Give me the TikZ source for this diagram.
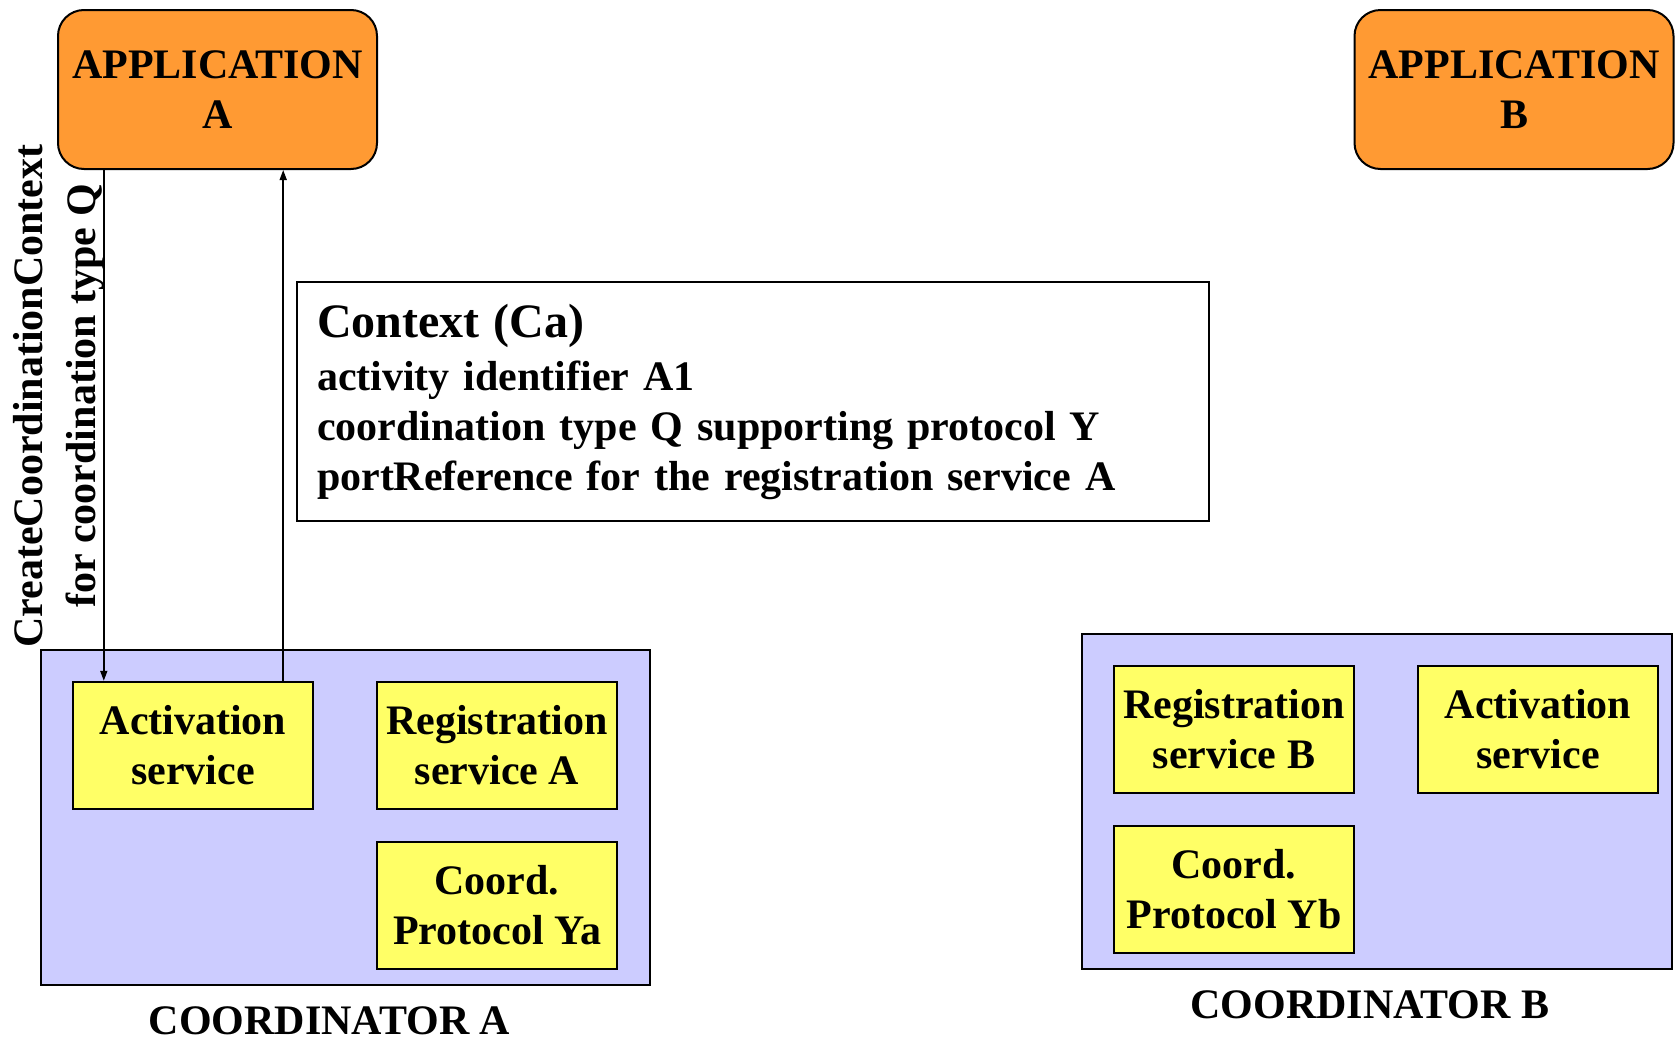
\documentclass[tikz,border=0pt]{standalone}
\usepackage{fontspec}
\setmainfont{Liberation Serif}
\usetikzlibrary{arrows.meta}

\definecolor{appcol}{HTML}{FF9A33}
\definecolor{coordcol}{HTML}{CCCCFF}
\definecolor{servcol}{HTML}{FFFF66}

\begin{document}
\begin{tikzpicture}[x=0.5pt, y=-0.5pt,
  every node/.style={font=\fontsize{21}{25}\selectfont\bfseries, align=center, inner sep=0pt},
  appbox/.style={draw, line width=1pt, fill=appcol, rounded corners=13pt, minimum width=159.5pt, minimum height=79.5pt},
  coordbox/.style={draw, line width=1pt, fill=coordcol, minimum height=167.5pt},
  servbox/.style={draw, line width=1.2pt, fill=servcol, minimum width=120pt, minimum height=63.5pt},
  ctxbox/.style={draw, line width=1pt, align=left, text width=436pt, inner xsep=10pt, minimum height=119.5pt},
  msg/.style={-{Triangle[length=5pt,width=3.5pt]}, line width=0.8pt}]
  \useasboundingbox (0,0) rectangle (1675,1039);

  % applications
  \node[appbox] (appA) at (217.5,89.5) {APPLICATION\\A};
  \node[appbox] (appB) at (1514,89.5) {APPLICATION\\B};

  % context
  \node[ctxbox] (ctx) at (753,401.5) {{\fontsize{24}{27}\selectfont Context (Ca)}\\[1.5pt]
    activity identifier A1\\
    coordination type Q supporting protocol Y\\
    portReference for the registration service A};

  % coordinator A
  \node[coordbox, minimum width=304.5pt] (coordA) at (345.5,817.5) {};
  \node[servbox] (actA) at (193,745.5) {Activation\\service};
  \node[servbox] (regA) at (497,745.5) {Registration\\service A};
  \node[servbox] (protA) at (497,905.5) {Coord.\\Protocol Ya};
  \node[anchor=base] (labA) at (329.6,1034) {COORDINATOR A};

  % coordinator B
  \node[coordbox, minimum width=295pt] (coordB) at (1377,801.5) {};
  \node[servbox] (regB) at (1234,729.5) {Registration\\service B};
  \node[servbox] (actB) at (1538,729.5) {Activation\\service};
  \node[servbox] (protB) at (1234,889.5) {Coord.\\Protocol Yb};
  \node[anchor=base] (labB) at (1370,1018) {COORDINATOR B};

  % request and reply
  \node[rotate=90, font=\fontsize{21}{26.5}\selectfont\bfseries] (create) at (58.5,396) {CreateCoordinationContext\\for coordination type Q};
  \coordinate (dn) at ([xshift=16pt]actA.north west);
  \coordinate (up) at ([xshift=-15.5pt]actA.north east);
  \draw[msg] (appA.south -| dn) -- (dn);
  \draw[msg] (up) -- (up |- appA.south);
\end{tikzpicture}
\end{document}
